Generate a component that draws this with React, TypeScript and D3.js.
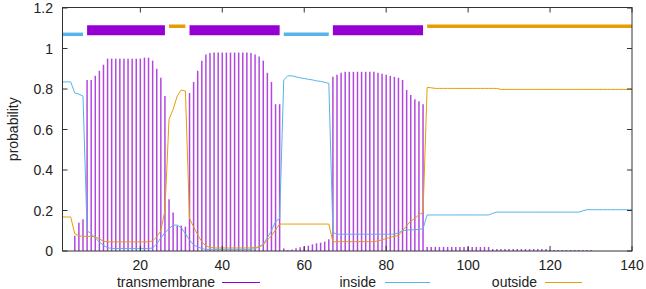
import React from 'react';
import * as d3 from 'd3';

// Per-residue posterior probabilities (residue 1..140)
const transmembrane: number[] = [
  0, 0, 0, 0.075, 0.14, 0.157, 0.845, 0.845, 0.865, 0.89,
  0.92, 0.95, 0.95, 0.95, 0.95, 0.95, 0.95, 0.95, 0.95, 0.95,
  0.955, 0.955, 0.94, 0.9, 0.855, 0.765, 0.255, 0.19, 0.125, 0.125,
  0.12, 0.78, 0.835, 0.89, 0.94, 0.97, 0.978, 0.98, 0.98, 0.98,
  0.98, 0.98, 0.98, 0.98, 0.98, 0.98, 0.978, 0.97, 0.96, 0.94,
  0.88, 0.835, 0.725, 0.725, 0.013, 0.005, 0.008, 0.013, 0.018, 0.021,
  0.026, 0.033, 0.038, 0.041, 0.046, 0.058, 0.86, 0.87, 0.88, 0.885,
  0.885, 0.885, 0.885, 0.885, 0.885, 0.885, 0.885, 0.88, 0.875, 0.87,
  0.865, 0.86, 0.855, 0.845, 0.795, 0.77, 0.75, 0.74, 0.725, 0.02,
  0.02, 0.02, 0.02, 0.02, 0.02, 0.02, 0.02, 0.02, 0.02, 0.02,
  0.02, 0.02, 0.02, 0.02, 0.02, 0.01, 0.01, 0.01, 0.01, 0.01,
  0.01, 0.01, 0.01, 0.01, 0.01, 0.01, 0.01, 0.01, 0.01, 0.005,
  0.005, 0.005, 0.005, 0.005, 0.005, 0.005, 0.005, 0.005, 0.005, 0.005,
  0, 0, 0, 0, 0, 0, 0, 0, 0, 0,
];

const inside: number[] = [
  0.835, 0.835, 0.835, 0.78, 0.775, 0.765, 0.1, 0.085, 0.065, 0.045,
  0.028, 0.016, 0.013, 0.012, 0.012, 0.012, 0.012, 0.012, 0.012, 0.012,
  0.012, 0.012, 0.015, 0.035, 0.065, 0.09, 0.11, 0.128, 0.128, 0.115,
  0.085, 0.055, 0.03, 0.02, 0.012, 0.008, 0.008, 0.008, 0.008, 0.008,
  0.008, 0.008, 0.008, 0.008, 0.008, 0.008, 0.008, 0.012, 0.02, 0.035,
  0.065, 0.1, 0.145, 0.16, 0.845, 0.865, 0.865, 0.86, 0.855, 0.852,
  0.848, 0.845, 0.84, 0.838, 0.833, 0.828, 0.092, 0.083, 0.083, 0.083,
  0.083, 0.083, 0.083, 0.083, 0.083, 0.083, 0.083, 0.083, 0.083, 0.083,
  0.083, 0.083, 0.09, 0.1, 0.103, 0.105, 0.105, 0.107, 0.11, 0.178,
  0.178, 0.178, 0.178, 0.178, 0.178, 0.178, 0.178, 0.178, 0.178, 0.178,
  0.178, 0.178, 0.178, 0.178, 0.178, 0.186, 0.192, 0.192, 0.192, 0.192,
  0.192, 0.192, 0.192, 0.192, 0.192, 0.192, 0.192, 0.192, 0.192, 0.192,
  0.192, 0.192, 0.192, 0.192, 0.192, 0.192, 0.192, 0.198, 0.204, 0.204,
  0.204, 0.204, 0.204, 0.204, 0.204, 0.204, 0.204, 0.204, 0.204, 0.204,
];

const outside: number[] = [
  0.168, 0.168, 0.168, 0.085, 0.075, 0.073, 0.072, 0.072, 0.07, 0.06,
  0.048, 0.045, 0.045, 0.045, 0.045, 0.045, 0.045, 0.045, 0.045, 0.045,
  0.045, 0.045, 0.05, 0.07, 0.1, 0.2, 0.65, 0.7, 0.765, 0.795,
  0.79, 0.16, 0.12, 0.08, 0.045, 0.025, 0.018, 0.015, 0.015, 0.015,
  0.015, 0.015, 0.015, 0.015, 0.015, 0.015, 0.015, 0.018, 0.02, 0.03,
  0.055, 0.075, 0.105, 0.133, 0.133, 0.133, 0.133, 0.133, 0.133, 0.133,
  0.133, 0.133, 0.133, 0.133, 0.133, 0.133, 0.045, 0.046, 0.046, 0.046,
  0.046, 0.046, 0.046, 0.046, 0.046, 0.046, 0.046, 0.05, 0.055, 0.062,
  0.067, 0.072, 0.077, 0.1, 0.125, 0.148, 0.16, 0.18, 0.19, 0.808,
  0.806, 0.803, 0.803, 0.803, 0.803, 0.803, 0.803, 0.803, 0.803, 0.803,
  0.803, 0.803, 0.803, 0.803, 0.803, 0.803, 0.803, 0.798, 0.798, 0.798,
  0.798, 0.798, 0.798, 0.798, 0.798, 0.798, 0.798, 0.798, 0.798, 0.798,
  0.798, 0.798, 0.798, 0.798, 0.798, 0.798, 0.798, 0.798, 0.798, 0.798,
  0.798, 0.798, 0.798, 0.798, 0.798, 0.798, 0.798, 0.798, 0.798, 0.798,
];

// Predicted topology segments (top band)
const segStart: number[] = [1, 7, 27, 32, 55, 67, 90];
const segEnd: number[] = [6, 26, 31, 54, 66, 89, 140];
const segType: string[] = ['inside', 'TMhelix', 'outside', 'TMhelix', 'inside', 'TMhelix', 'outside'];

const xTicks: number[] = [20, 40, 60, 80, 100, 120, 140];
const yTicks: number[] = [0, 0.2, 0.4, 0.6, 0.8, 1, 1.2];
const yTickLabels: string[] = ['0', '0.2', '0.4', '0.6', '0.8', '1', '1.2'];

const C_TM = '#9400D3';
const C_IN = '#56B4E9';
const C_OUT = '#E69F00';

const FONT = '"Liberation Sans", Arial, sans-serif';

export default function App() {
  const W = 646;
  const H = 289;
  const L = 62.5, R = 632, T = 7.5, B = 251;
  const x = d3.scaleLinear().domain([1, 140]).range([L, R]);
  const y = d3.scaleLinear().domain([0, 1.2]).range([B, T + 0.5]);

  const line = d3
    .line<number>()
    .x((_, i) => x(i + 1))
    .y((d) => y(d));

  const segLevel: Record<string, number> = { inside: 1.07, TMhelix: 1.09, outside: 1.11 };
  const segColor: Record<string, string> = { inside: C_IN, TMhelix: C_TM, outside: C_OUT };
  const segWidth: Record<string, number> = { inside: 3.5, TMhelix: 10, outside: 3.5 };

  const tickLen = 5;

  return (
    <svg
      width={W}
      height={H}
      style={{ position: 'fixed', left: 0, top: 0, background: '#fff' }}
      fontFamily={FONT}
    >
      <rect x={0} y={0} width={W} height={H} fill="#fff" />
      {/* impulses */}
      <g stroke={C_TM} strokeWidth={1.5} strokeOpacity={0.72}>
        {transmembrane.map((v, i) =>
          v > 0 ? <line key={i} x1={x(i + 1)} x2={x(i + 1)} y1={y(0)} y2={y(v)} /> : null
        )}
      </g>
      <path d={line(inside) || ''} fill="none" stroke={C_IN} strokeWidth={1} />
      <path d={line(outside) || ''} fill="none" stroke={C_OUT} strokeWidth={1} />
      {/* topology band */}
      {segStart.map((s, i) => (
        <line
          key={'seg' + i}
          x1={x(s)}
          x2={x(segEnd[i])}
          y1={y(segLevel[segType[i]])}
          y2={y(segLevel[segType[i]])}
          stroke={segColor[segType[i]]}
          strokeWidth={segWidth[segType[i]]}
        />
      ))}
      {/* frame */}
      <rect x={L} y={T} width={R - L} height={B - T} fill="none" stroke="#333" strokeWidth={1} />
      {/* x ticks */}
      {xTicks.map((t) => (
        <g key={'xt' + t}>
          <line x1={x(t)} x2={x(t)} y1={B} y2={B - tickLen} stroke="#333" />
          <line x1={x(t)} x2={x(t)} y1={T} y2={T + tickLen} stroke="#333" />
          <text x={x(t)} y={270} textAnchor="middle" fontSize={14} fill="#222">
            {t}
          </text>
        </g>
      ))}
      {/* y ticks */}
      {yTicks.map((t, i) => (
        <g key={'yt' + t}>
          <line x1={L} x2={L + tickLen} y1={y(t)} y2={y(t)} stroke="#333" />
          <line x1={R} x2={R - tickLen} y1={y(t)} y2={y(t)} stroke="#333" />
          <text x={53} y={y(t) + 5} textAnchor="end" fontSize={14} fill="#222">
            {yTickLabels[i]}
          </text>
        </g>
      ))}
      <text
        transform={`translate(18,${(T + B) / 2}) rotate(-90)`}
        textAnchor="middle"
        fontSize={14}
        fill="#222"
      >
        probability
      </text>
      {/* legend */}
      <text x={215} y={287} textAnchor="end" fontSize={14} fill="#222">transmembrane</text>
      <line x1={222} x2={260} y1={282.5} y2={282.5} stroke={C_TM} strokeWidth={1} />
      <text x={376} y={287} textAnchor="end" fontSize={14} fill="#222">inside</text>
      <line x1={385} x2={430} y1={282.5} y2={282.5} stroke={C_IN} strokeWidth={1} />
      <text x={537} y={287} textAnchor="end" fontSize={14} fill="#222">outside</text>
      <line x1={545} x2={582} y1={282.5} y2={282.5} stroke={C_OUT} strokeWidth={1} />
    </svg>
  );
}
